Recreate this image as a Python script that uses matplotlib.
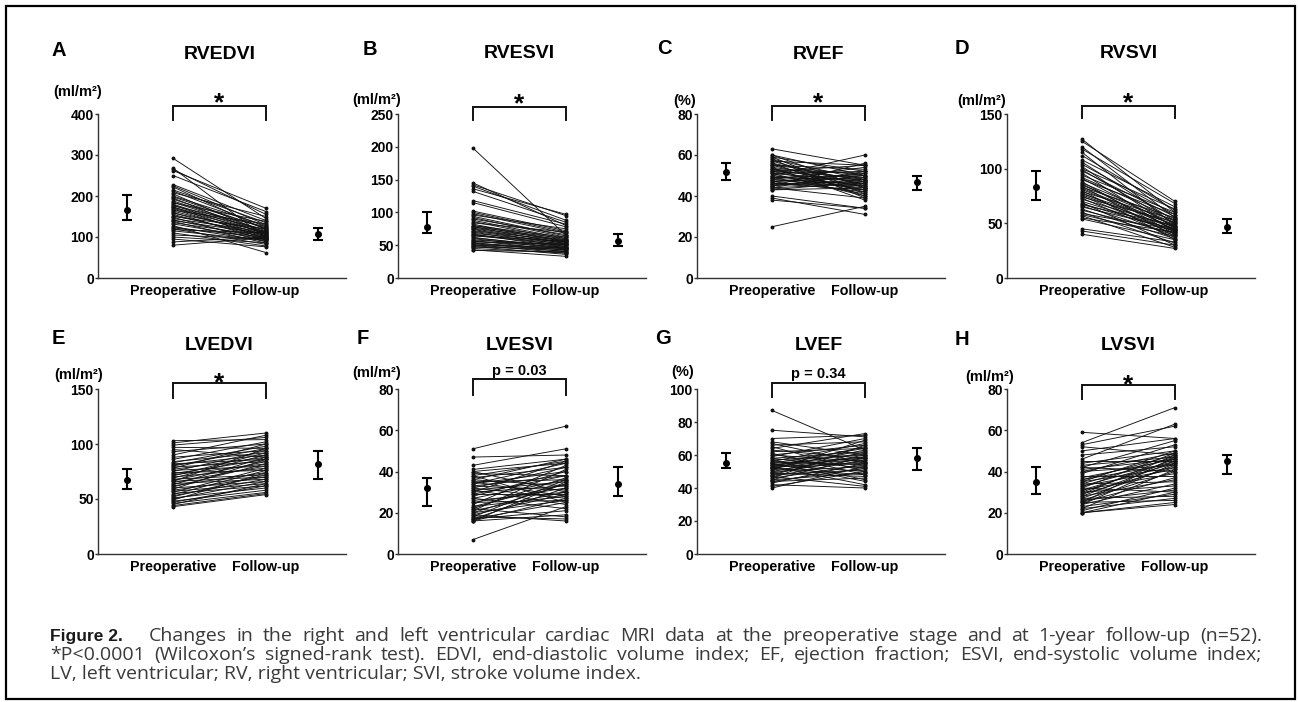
import matplotlib
matplotlib.use("Agg")
import matplotlib.pyplot as plt
import numpy as np
from matplotlib.patches import Rectangle

plt.rcParams['font.family'] = ['Liberation Sans', 'DejaVu Sans']

# ---- data ----
titles = ["RVEDVI", "RVESVI", "RVEF", "RVSVI", "LVEDVI", "LVESVI", "LVEF", "LVSVI"]
letters = ["A", "B", "C", "D", "E", "F", "G", "H"]
units = ["(ml/m²)", "(ml/m²)", "(%)", "(ml/m²)", "(ml/m²)", "(ml/m²)", "(%)", "(ml/m²)"]
ymax = [400, 250, 80, 150, 150, 80, 100, 80]
ystep = [100, 50, 20, 50, 50, 20, 20, 20]
signif = ["*", "*", "*", "*", "*", "p = 0.03", "p = 0.34", "*"]
groups = ["Preoperative", "Follow-up"]

pre_a = [292, 268, 265, 262, 250, 228, 225, 222, 215, 212, 208, 205, 200, 198, 195, 192, 188, 185, 183, 180,
         178, 176, 174, 172, 170, 168, 165, 163, 160, 158, 155, 152, 150, 148, 145, 142, 140, 138, 135, 132,
         128, 125, 122, 120, 118, 115, 110, 105, 100, 95, 88, 80]
post_a = [145, 98, 155, 170, 162, 140, 130, 118, 135, 125, 150, 110, 128, 120, 105, 122, 115, 112, 138, 108,
          102, 125, 95, 118, 110, 100, 132, 106, 92, 114, 98, 104, 120, 88, 112, 96, 108, 85, 102, 94,
          62, 90, 100, 82, 110, 92, 78, 95, 86, 76, 100, 98]
pre_b = [198, 145, 142, 140, 136, 132, 118, 115, 102, 100, 98, 96, 94, 92, 90, 88, 86, 84, 82, 80,
         80, 78, 78, 76, 75, 74, 72, 71, 70, 68, 67, 66, 65, 64, 62, 61, 60, 58, 57, 56,
         55, 54, 53, 52, 51, 50, 49, 48, 47, 45, 43, 42]
post_b = [65, 80, 95, 88, 97, 85, 82, 78, 72, 70, 68, 75, 64, 62, 66, 60, 58, 70, 56, 62,
          55, 60, 52, 58, 54, 50, 57, 53, 48, 55, 46, 52, 50, 56, 45, 48, 44, 50, 42, 47,
          52, 40, 45, 43, 38, 46, 41, 36, 44, 38, 33, 40]
pre_c = [63, 60, 60, 59, 59, 58, 58, 57, 57, 56, 56, 55, 55, 55, 54, 54, 53, 53, 53, 52,
         52, 52, 51, 51, 51, 50, 50, 50, 49, 49, 49, 48, 48, 48, 47, 47, 47, 46, 46, 46,
         45, 45, 45, 44, 44, 44, 43, 43, 40, 39, 38, 25]
post_c = [55, 50, 44, 52, 41, 48, 39, 55, 45, 47, 40, 53, 44, 50, 38, 48, 42, 51, 46, 55,
          43, 49, 40, 52, 47, 45, 60, 43, 50, 41, 48, 54, 44, 46, 49, 42, 51, 45, 47, 43,
          56, 48, 50, 46, 39, 52, 44, 47, 34, 31, 34, 35]
pre_d = [127, 125, 120, 118, 115, 112, 108, 106, 104, 102, 100, 99, 98, 96, 94, 92, 91, 90, 88, 87,
         86, 85, 84, 83, 82, 81, 80, 79, 78, 77, 76, 75, 74, 73, 72, 70, 69, 68, 67, 66,
         65, 63, 62, 60, 59, 58, 57, 55, 54, 45, 43, 40]
post_d = [60, 70, 55, 68, 48, 62, 65, 52, 58, 45, 63, 50, 56, 42, 60, 54, 47, 58, 40, 52,
          44, 50, 38, 55, 48, 46, 35, 53, 42, 49, 45, 40, 51, 37, 47, 44, 30, 43, 48, 39,
          45, 36, 41, 32, 44, 38, 28, 42, 35, 33, 30, 27]
pre_e = [103, 101, 99, 97, 95, 93, 90, 88, 86, 84, 83, 82, 81, 80, 79, 78, 77, 76, 75, 74,
         73, 72, 71, 70, 69, 68, 67, 66, 66, 65, 64, 63, 62, 61, 60, 59, 58, 57, 56, 55,
         54, 53, 52, 51, 50, 49, 48, 47, 46, 45, 44, 43]
post_e = [104, 110, 106, 96, 88, 100, 108, 94, 102, 92, 98, 86, 90, 96, 84, 100, 88, 80, 94, 76,
          86, 82, 92, 78, 90, 72, 84, 70, 96, 80, 68, 88, 74, 82, 66, 86, 70, 64, 78, 62,
          76, 68, 72, 60, 66, 74, 58, 62, 56, 64, 55, 54]
pre_f = [51, 47, 43, 41, 40, 40, 39, 38, 38, 37, 36, 36, 35, 35, 34, 34, 33, 33, 32, 32,
         31, 31, 30, 30, 29, 29, 28, 27, 27, 26, 25, 25, 24, 23, 23, 22, 22, 21, 21, 20,
         20, 19, 19, 18, 18, 17, 17, 17, 16, 16, 16, 7]
post_f = [62, 48, 51, 46, 30, 44, 38, 25, 45, 42, 33, 46, 36, 28, 40, 44, 31, 38, 27, 42,
          35, 24, 45, 33, 38, 29, 40, 22, 36, 30, 32, 26, 43, 34, 28, 37, 18, 30, 41, 26,
          34, 16, 29, 36, 17, 32, 25, 21, 27, 35, 19, 23]
pre_g = [87, 75, 70, 68, 67, 66, 65, 64, 63, 62, 61, 60, 60, 59, 58, 58, 57, 57, 56, 56,
         55, 55, 55, 54, 54, 54, 53, 53, 53, 52, 52, 52, 51, 51, 50, 50, 49, 49, 48, 48,
         47, 47, 46, 46, 45, 45, 44, 44, 43, 42, 41, 40]
post_g = [63, 71, 72, 60, 55, 68, 50, 73, 58, 64, 48, 66, 56, 70, 52, 62, 45, 60, 67, 54,
          58, 44, 64, 57, 61, 50, 65, 55, 42, 59, 63, 48, 56, 69, 53, 60, 47, 58, 62, 51,
          57, 41, 54, 66, 49, 59, 52, 46, 55, 40, 50, 53]
pre_h = [59, 54, 53, 52, 50, 48, 46, 45, 44, 43, 42, 42, 41, 40, 40, 39, 38, 37, 36, 36,
         35, 35, 34, 34, 33, 33, 32, 32, 31, 31, 30, 30, 29, 29, 28, 28, 27, 27, 26, 26,
         25, 25, 25, 24, 24, 23, 22, 22, 21, 20, 20, 20]
post_h = [56, 71, 62, 48, 56, 52, 63, 45, 50, 47, 55, 40, 46, 49, 43, 53, 38, 46, 44, 48,
          42, 50, 35, 47, 45, 41, 49, 30, 44, 39, 46, 33, 48, 42, 36, 45, 28, 43, 40, 31,
          47, 37, 26, 44, 34, 29, 41, 27, 32, 25, 24, 30]

pre_all = [pre_a, pre_b, pre_c, pre_d, pre_e, pre_f, pre_g, pre_h]
post_all = [post_a, post_b, post_c, post_d, post_e, post_f, post_g, post_h]

# median and interquartile range (low, high) shown beside the paired lines
med_pre = [165, 78, 51.5, 83, 67, 32, 55, 35]
iqr_pre = [(142, 202), (68, 100), (48, 56), (71, 98), (59, 77), (23.5, 37), (52, 61), (29, 42)]
med_post = [108, 57, 47, 47, 82, 34, 58, 45]
iqr_post = [(92, 122), (49, 67), (43, 50), (41, 54), (68, 94), (28, 42), (51, 64), (39, 48)]

caption_1 = ("Changes in the right and left ventricular cardiac MRI data at the preoperative stage "
             "and at 1-year follow-up (n=52).")
caption_2 = ("*P<0.0001 (Wilcoxon’s signed-rank test). EDVI, end-diastolic volume index; EF, ejection "
             "fraction; ESVI, end-systolic volume index;")
caption_3 = "LV, left ventricular; RV, right ventricular; SVI, stroke volume index."

# ---- layout (pixels) ----
W, H = 1298, 702
ax_x = [98, 398, 697, 1007]
row_top = [114, 389]
row_bot = [278, 554]
ax_w = 248
letter_pos = [(52, 56), (363, 55), (657, 54), (955, 54), (52, 344), (357, 344), (655, 344), (955, 345)]
unit_pos = [(78, 96), (377, 104), (685, 105), (982, 105), (79, 379), (377, 377), (683, 376), (990, 381)]
bracket_px = [(106, 120), (107, 120), (106, 120), (106, 118), (383, 398), (379, 395), (383, 397), (385, 399)]
sig_base = [110, 111, 110, 110, 390, 375, 378, 392]
title_base = [59, 58, 59, 58, 350, 350, 350, 350]

fig = plt.figure(figsize=(W / 100, H / 100), dpi=100)

for i in range(8):
    r, c = i // 4, i % 4
    top, bot = row_top[r], row_bot[r]
    hgt = bot - top
    ax = fig.add_axes([ax_x[c] / W, 1 - bot / H, ax_w / W, hgt / H])

    ax.plot([0, 2], np.array([pre_all[i], post_all[i]]), color='#111111', lw=0.65,
            marker='o', ms=1.8, mec='#111111', mfc='#111111')

    ax.errorbar(-1.0, med_pre[i], yerr=[[med_pre[i] - iqr_pre[i][0]], [iqr_pre[i][1] - med_pre[i]]],
                fmt='o', color='black', ms=4, capsize=3.6, elinewidth=1.5, capthick=1.5)
    ax.errorbar(3.12, med_post[i], yerr=[[med_post[i] - iqr_post[i][0]], [iqr_post[i][1] - med_post[i]]],
                fmt='o', color='black', ms=4, capsize=3.6, elinewidth=1.5, capthick=1.5)

    ax.set_xlim(-1.613, -1.613 + ax_w / 46.5)
    ax.set_ylim(0, ymax[i])
    ax.set_yticks(range(0, ymax[i] + 1, ystep[i]))
    ax.set_xticks([0, 2])
    ax.set_xticklabels(groups, fontweight='bold', fontsize=10.3)
    for lab in ax.get_yticklabels():
        lab.set_fontweight('bold')
    ax.tick_params(axis='x', length=0, pad=4)
    ax.tick_params(axis='y', length=2.5, width=1, pad=0.5, labelsize=10, color='#333333')
    for s in ['top', 'right']:
        ax.spines[s].set_visible(False)
    for s in ['left', 'bottom']:
        ax.spines[s].set_linewidth(1.0)
        ax.spines[s].set_color('#333333')

    # significance bracket
    tr = ax.get_xaxis_transform()
    b_hi = 1 + (top - bracket_px[i][0]) / hgt
    b_lo = 1 + (top - bracket_px[i][1]) / hgt
    ax.plot([0, 0, 2, 2], [b_lo, b_hi, b_hi, b_lo], transform=tr, color='#111111', lw=1.4,
            clip_on=False, solid_joinstyle='miter')
    sy = 1 + (top - sig_base[i]) / hgt
    if signif[i] == "*":
        ax.text(1, sy, "*", transform=tr, ha='center', va='baseline', fontsize=19, fontweight='bold')
    else:
        ax.text(1, sy, signif[i], transform=tr, ha='center', va='baseline', fontsize=10.5,
                fontweight='bold')

    ty = 1 + (top - title_base[i]) / hgt
    ax.text(1, ty, titles[i], transform=tr, ha='center', va='baseline', fontsize=14, fontweight='bold')

    lx, ly = letter_pos[i]
    fig.text(lx / W, 1 - ly / H, letters[i], ha='left', va='baseline', fontsize=14.5, fontweight='bold')
    ux, uy = unit_pos[i]
    fig.text(ux / W, 1 - uy / H, units[i], ha='center', va='baseline', fontsize=10.5, fontweight='bold')

# ---- caption, justified like the journal layout ----
renderer = fig.canvas.get_renderer()
cap_kw = dict(fontsize=14, color='#3a3a3a', va='baseline', ha='left',
              family=['Open Sans', 'Liberation Sans'])


def justify(text, x0, x1, y):
    words = text.split(" ")
    objs = [fig.text(0, 1 - y / H, w, **cap_kw) for w in words]
    widths = [o.get_window_extent(renderer).width for o in objs]
    gap = (x1 - x0 - sum(widths)) / (len(words) - 1)
    x = x0
    for o, w in zip(objs, widths):
        o.set_x(x / W)
        x += w + gap


fig.text(50 / W, 1 - 641 / H, "Figure 2.", fontsize=12.5, fontweight='bold', color='#1a1a1a',
         va='baseline', ha='left', family=['Liberation Sans Narrow', 'Liberation Sans'])
justify(caption_1, 149, 1262, 641)
justify(caption_2, 50, 1262, 660)
fig.text(50 / W, 1 - 679 / H, caption_3, **cap_kw)

fig.patches.append(Rectangle((6 / W, 3 / H), 1289 / W, 693 / H, transform=fig.transFigure,
                             fill=False, lw=1.6, edgecolor='black'))

fig.savefig("out.png", dpi=100)
